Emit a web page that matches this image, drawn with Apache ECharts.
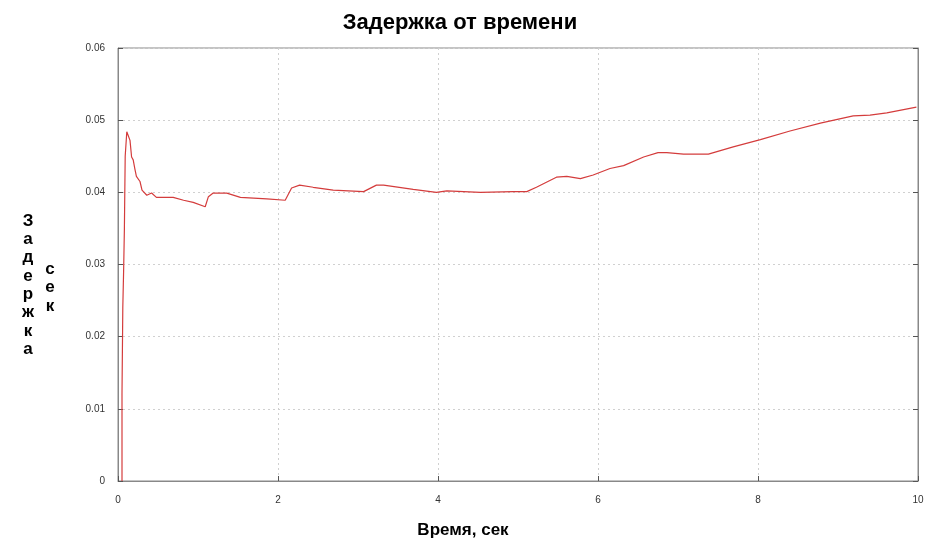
<!DOCTYPE html>
<html>
<head>
<meta charset="utf-8">
<script src="https://cdn.jsdelivr.net/npm/echarts@6/dist/echarts.min.js"></script>
<style>html,body{margin:0;padding:0;background:#fff;}#c{width:932px;height:544px;}</style>
</head>
<body>
<div id="c"></div>
<script>
var titleText = 'Задержка от времени';
var xName = 'Время, сек';
var yNameLetters = ['З','а','д','е','р','ж','к','а'];
var yUnitLetters = ['с','е','к'];
var xTicks = [0, 2, 4, 6, 8, 10];
var yTicks = [0, 0.01, 0.02, 0.03, 0.04, 0.05, 0.06];

var timeSec = [0.05, 0.05, 0.06, 0.07, 0.08, 0.09, 0.11, 0.13, 0.15, 0.17, 0.19, 0.21, 0.23, 0.275, 0.30, 0.36, 0.38, 0.42, 0.48, 0.69, 0.82, 0.94, 1.09, 1.13, 1.19, 1.36, 1.53, 1.86, 2.09, 2.17, 2.27, 2.44, 2.69, 3.07, 3.23, 3.32, 3.69, 3.98, 4.11, 4.53, 4.94, 5.11, 5.23, 5.48, 5.61, 5.78, 5.94, 6.15, 6.32, 6.57, 6.75, 6.86, 7.07, 7.38, 7.69, 8.03, 8.40, 8.78, 9.19, 9.40, 9.61, 9.98];
var delaySec = [0, 0.012, 0.024, 0.029, 0.035, 0.045, 0.0484, 0.0486, 0.0472, 0.0449, 0.0445, 0.0433, 0.0422, 0.0415, 0.0403, 0.0396, 0.0394, 0.0399, 0.0393, 0.0393, 0.0389, 0.0386, 0.0380, 0.0394, 0.0399, 0.0399, 0.0393, 0.0391, 0.0389, 0.0406, 0.0410, 0.0407, 0.0403, 0.0401, 0.0410, 0.0410, 0.0404, 0.0400, 0.0402, 0.0400, 0.0401, 0.0401, 0.0407, 0.0421, 0.0422, 0.0419, 0.0424, 0.0433, 0.0437, 0.0449, 0.0455, 0.0455, 0.0453, 0.0453, 0.0463, 0.0473, 0.0485, 0.0496, 0.0506, 0.0507, 0.0510, 0.0518];

var pts = timeSec.map(function (t, i) { return [t, delaySec[i]]; });

var chart = echarts.init(document.getElementById('c'));
var FF = '"Liberation Sans", Arial, sans-serif';
var lblStyle = {color: '#333', fontSize: 10, fontFamily: FF};
var splitStyle = {show: true, lineStyle: {color: '#d0d0d0', type: [2, 3], width: 1}};
chart.setOption({
  backgroundColor: '#fff',
  animation: false,
  title: {
    text: titleText, left: 455, top: 7, textAlign: 'center',
    textStyle: {fontSize: 22, fontWeight: 'bold', color: '#000', fontFamily: FF}
  },
  grid: {left: 118, right: 14, top: 48, bottom: 63, outerBoundsMode: 'none', containLabel: false, show: true, borderColor: '#888', borderWidth: 1, backgroundColor: 'transparent'},
  xAxis: {
    type: 'value', min: xTicks[0], max: xTicks[xTicks.length - 1], interval: 2,
    axisLine: {show: true, lineStyle: {color: '#888'}},
    axisTick: {show: true, inside: true, length: 5, lineStyle: {color: '#555'}},
    axisLabel: Object.assign({margin: 14}, lblStyle),
    splitLine: splitStyle
  },
  yAxis: [{
    type: 'value', min: yTicks[0], max: yTicks[yTicks.length - 1], interval: 0.01,
    axisLine: {show: true, lineStyle: {color: '#888'}},
    axisTick: {show: true, inside: true, length: 5, lineStyle: {color: '#555'}},
    axisLabel: Object.assign({margin: 13}, lblStyle),
    splitLine: splitStyle
  }, {
    type: 'value', position: 'right', min: yTicks[0], max: yTicks[yTicks.length - 1], interval: 0.01,
    axisLine: {show: true, lineStyle: {color: '#888'}},
    axisTick: {show: true, inside: true, length: 5, lineStyle: {color: '#555'}},
    axisLabel: {show: false},
    splitLine: {show: false}
  }],
  graphic: [
    {type: 'text', x: 28, y: 212, style: {text: yNameLetters.join('\n'), font: 'bold 17px ' + FF, lineHeight: 18.3, fill: '#000', align: 'center'}},
    {type: 'text', x: 50, y: 260, style: {text: yUnitLetters.join('\n'), font: 'bold 17px ' + FF, lineHeight: 18.5, fill: '#000', align: 'center'}},
    {type: 'text', x: 463, y: 530, style: {text: xName, font: 'bold 17px ' + FF, fill: '#000', align: 'center', verticalAlign: 'middle'}}
  ],
  series: [{
    type: 'line', data: pts, showSymbol: false, symbol: 'none',
    lineStyle: {color: '#d43c3c', width: 1.2}
  }]
});
</script>
</body>
</html>
